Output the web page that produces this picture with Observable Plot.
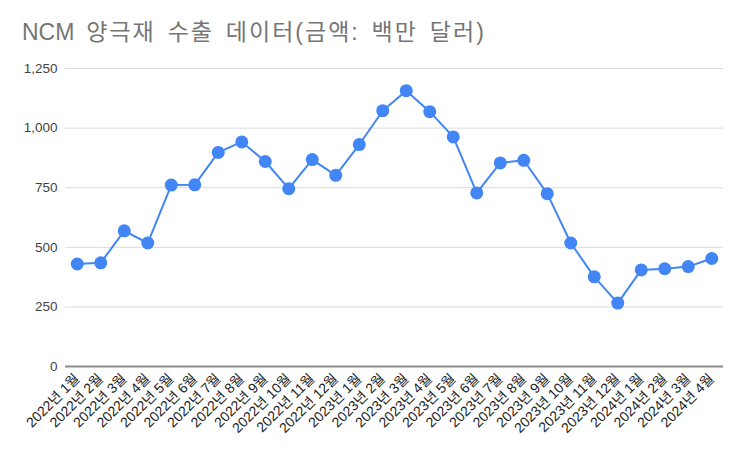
<!DOCTYPE html>
<html><head><meta charset="utf-8">
<script src="https://cdn.jsdelivr.net/npm/d3@7"></script>
<script src="https://cdn.jsdelivr.net/npm/@observablehq/plot@0.6"></script>
<style>
body{margin:0;background:#fff;font-family:"Liberation Sans",Arial,"Noto Sans CJK KR",sans-serif;}
#title{height:50px;box-sizing:border-box;padding:21px 0 0 22px;font-family:"Liberation Sans",Arial,"Noto Sans CJK KR",sans-serif;font-size:23px;letter-spacing:2px;word-spacing:3.5px;color:#757575;line-height:23px;white-space:nowrap;}
#title .lat{letter-spacing:0;}
</style></head><body>
<div id="title"><span class="lat">NCM</span> 양극재 수출 데이터(금액: 백만 달러)</div>
<div id="chart"></div>
<script>
const months = [
  "2022년 1월","2022년 2월","2022년 3월","2022년 4월","2022년 5월","2022년 6월",
  "2022년 7월","2022년 8월","2022년 9월","2022년 10월","2022년 11월","2022년 12월",
  "2023년 1월","2023년 2월","2023년 3월","2023년 4월","2023년 5월","2023년 6월",
  "2023년 7월","2023년 8월","2023년 9월","2023년 10월","2023년 11월","2023년 12월",
  "2024년 1월","2024년 2월","2024년 3월","2024년 4월"
];
const values = [
  430, 435, 569, 518, 761, 762, 898, 942, 860, 746, 868, 802,
  931, 1073, 1157, 1069, 963, 728, 854, 865, 725, 518, 376, 266,
  405, 410, 419, 453
];
const yTicks = [0, 250, 500, 750, 1000, 1250];

const data = months.map((m, i) => ({month: m, value: values[i]}));
const font = '"Liberation Sans", Arial, "Noto Sans CJK KR", sans-serif';

const chart = Plot.plot({
  width: 742,
  height: 402,
  marginTop: 18,
  marginLeft: 65,
  marginRight: 19,
  marginBottom: 86,
  style: {fontFamily: font, fontSize: "12px", background: "white", overflow: "visible"},
  x: {type: "point", domain: months, padding: 0.5, round: false, label: null},
  y: {domain: [0, 1250], label: null},
  marks: [
    Plot.ruleY(yTicks.filter(d => d > 0), {stroke: "#dadada", strokeWidth: 1}),
    Plot.ruleY([0], {stroke: "#8a8a8a", strokeWidth: 2}),
    Plot.axisY({ticks: yTicks, tickFormat: d3.format(","), tickSize: 0, tickPadding: 8, fontSize: 13.5, color: "#444", label: null}),
    Plot.axisX({tickRotate: -45, tickSize: 0, tickPadding: 10, fontSize: 14, color: "#222", label: null}),
    Plot.line(data, {x: "month", y: "value", stroke: "#4285F4", strokeWidth: 2}),
    Plot.dot(data, {x: "month", y: "value", r: 6.5, fill: "#4285F4", stroke: "none"})
  ]
});
document.getElementById("chart").appendChild(chart);
</script>
</body></html>
